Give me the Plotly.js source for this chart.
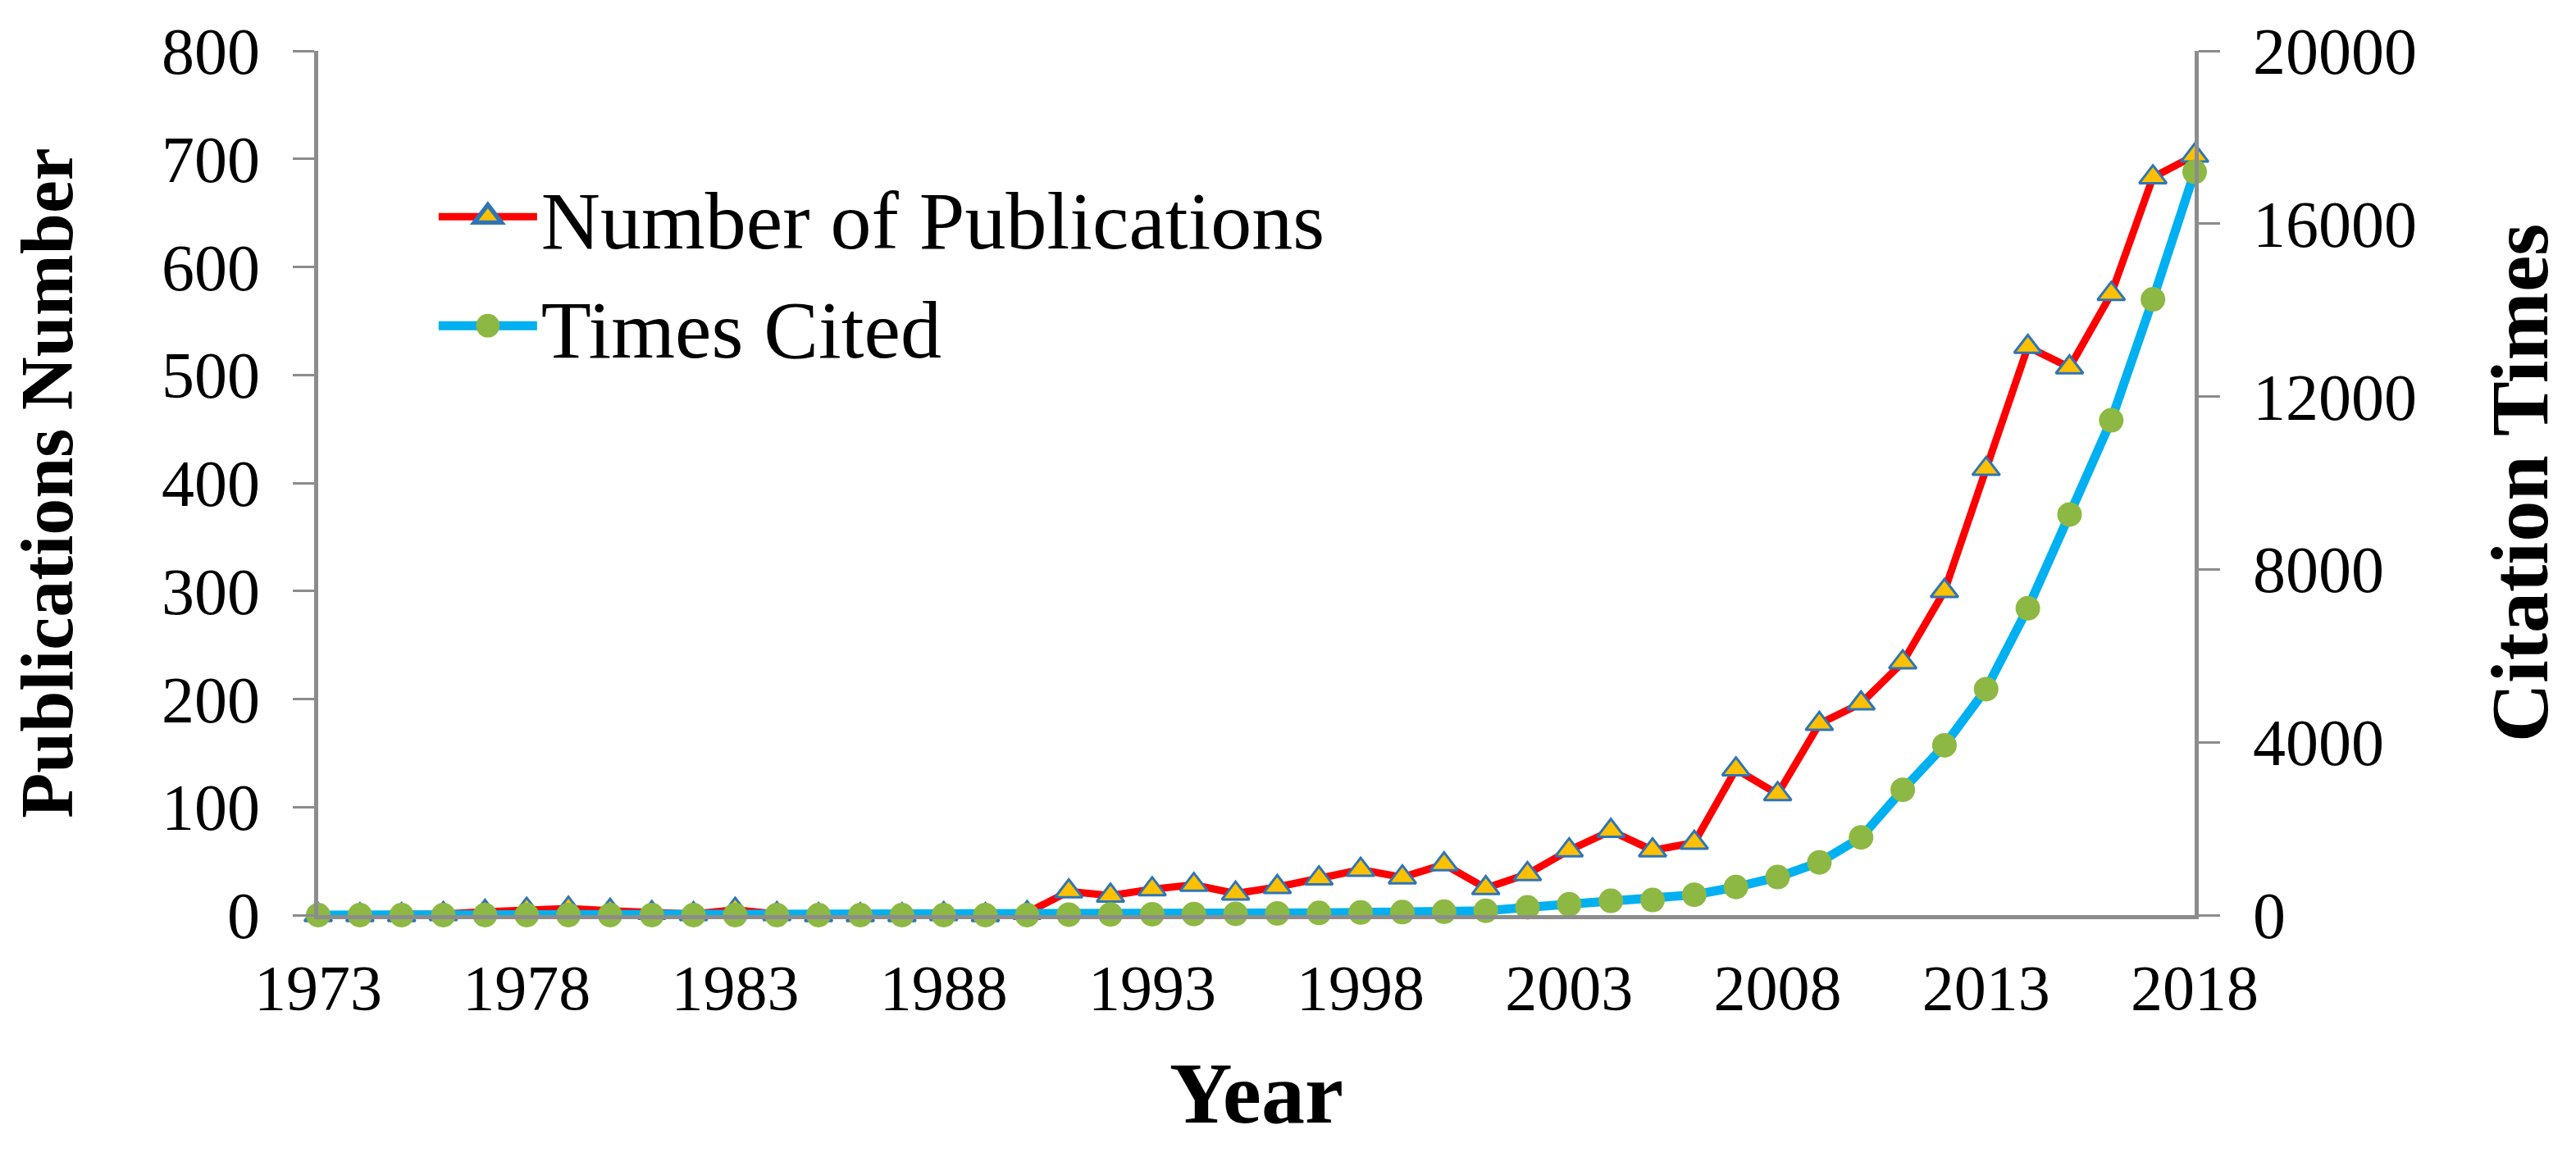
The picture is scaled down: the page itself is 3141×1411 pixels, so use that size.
<!DOCTYPE html>
<html>
<head>
<meta charset="utf-8">
<script src="https://cdn.plot.ly/plotly-3.0.1.min.js"></script>
<style>
html,body{margin:0;padding:0;background:#fff;}
#chart{width:3141px;height:1411px;}
</style>
</head>
<body>
<div id="chart"></div>
<script>
// ---- data ----
const years = [1973,1974,1975,1976,1977,1978,1979,1980,1981,1982,1983,1984,1985,1986,1987,1988,1989,1990,
  1991,1992,1993,1994,1995,1996,1997,1998,1999,2000,2001,2002,2003,2004,2005,2006,2007,2008,2009,2010,
  2011,2012,2013,2014,2015,2016,2017,2018];
const publications = [0,0,0,1,3,5,6,4,2,1,5,1,0,0,0,1,0,2,
  22,18,24,28,20,26,34,42,35,47,25,38,60,78,60,67,135,112,177,196,
  234,300,413,526,507,575,683,703];
const timesCited = [0,0,0,0,0,0,0,0,0,0,0,0,0,0,0,0,0,0,
  10,15,20,25,30,40,50,60,70,80,100,180,250,330,350,470,650,880,1220,1800,
  2900,3930,5230,7100,9270,11450,14250,17200];
const xTickVals = [1973,1978,1983,1988,1993,1998,2003,2008,2013,2018];
const xTickText = ['1973','1978','1983','1988','1993','1998','2003','2008','2013','2018'];
const yLeftTicks = [0,100,200,300,400,500,600,700,800];
const yLeftText = ['0','100','200','300','400','500','600','700','800'];
const yRightTicks = [0,4000,8000,12000,16000,20000];
const yRightText = ['0','4000','8000','12000','16000','20000'];
const seriesNames = ['Number of Publications','Times Cited'];
const axisTitles = {x:'Year', y:'Publications Number', y2:'Citation Times'};

const serif = '"Liberation Serif", "Times New Roman", serif';
const axisGray = '#8c8c8c';

const traces = [
  {
    x: years, y: publications, name: seriesNames[0], type: 'scatter', mode: 'lines+markers',
    yaxis: 'y', cliponaxis: false,
    line: {color: '#ff0000', width: 9},
    marker: {symbol: 'triangle-up', size: 29, color: '#ffc000', line: {color: '#2e75b6', width: 3}}
  },
  {
    x: years, y: timesCited, name: seriesNames[1], type: 'scatter', mode: 'lines+markers',
    yaxis: 'y2', cliponaxis: false,
    line: {color: '#00b0f0', width: 11},
    marker: {symbol: 'circle', size: 30, color: '#8db843', line: {width: 0}}
  }
];
// draw citations first so publications stay on top at the end
const data = [traces[1], traces[0]];

const layout = {
  width: 3141, height: 1411,
  paper_bgcolor: '#ffffff', plot_bgcolor: '#ffffff',
  margin: {l: 388, r: 465, t: 62, b: 295},
  font: {family: serif, color: '#000000', size: 80},
  showlegend: true,
  legend: {
    x: 0.062, y: 0.876, xanchor: 'left', yanchor: 'top',
    font: {family: serif, size: 100, color: '#000'},
    bgcolor: 'rgba(0,0,0,0)', borderwidth: 0,
    traceorder: 'reversed', itemwidth: 120, itemsizing: 'trace'
  },
  xaxis: {
    range: [1973, 2018], tickmode: 'array', tickvals: xTickVals, ticktext: xTickText,
    showgrid: false, zeroline: false, showline: true, linecolor: axisGray, linewidth: 5,
    ticks: '', tickfont: {family: serif, size: 78, color: '#000'}, ticklabelstandoff: 16,
    title: {text: '<b>' + axisTitles.x + '</b>', font: {family: serif, size: 106, color: '#000'}, standoff: 50},
    automargin: false
  },
  yaxis: {
    range: [0, 800], tickmode: 'array', tickvals: yLeftTicks, ticktext: yLeftText,
    showgrid: false, zeroline: false, showline: true, linecolor: axisGray, linewidth: 5,
    ticks: 'outside', ticklen: 26, tickwidth: 3, tickcolor: axisGray,
    tickfont: {family: serif, size: 80, color: '#000'}, ticklabelstandoff: 24,
    title: {text: '<b>' + axisTitles.y + '</b>', font: {family: serif, size: 90, color: '#000'}, standoff: 80},
    automargin: false
  },
  yaxis2: {
    range: [0, 20000], tickmode: 'array', tickvals: yRightTicks, ticktext: yRightText,
    overlaying: 'y', side: 'right',
    showgrid: false, zeroline: false, showline: true, linecolor: axisGray, linewidth: 5,
    ticks: 'outside', ticklen: 26, tickwidth: 3, tickcolor: axisGray,
    tickfont: {family: serif, size: 80, color: '#000'}, ticklabelstandoff: 24,
    title: {text: '<b>' + axisTitles.y2 + '</b>', font: {family: serif, size: 100, color: '#000'}, standoff: 91},
    automargin: false
  }
};

Plotly.newPlot('chart', data, layout, {displayModeBar: false, staticPlot: true}).then(function (gd) {
  // enlarge legend symbols (Plotly caps their size) to match the reference
  gd.querySelectorAll('.legend .legendpoints path.scatterpts').forEach(function (p) {
    const t = p.getAttribute('transform') || '';
    p.setAttribute('transform', t + ' scale(1.8)');
  });
  const lines = gd.querySelectorAll('.legend .legendlines path');
  lines.forEach(function (p) {
    const isPub = p.style.stroke && p.style.stroke.indexOf('255, 0, 0') >= 0;
    p.style.strokeWidth = isPub ? '9px' : '11px';
  });
});
</script>
</body>
</html>
